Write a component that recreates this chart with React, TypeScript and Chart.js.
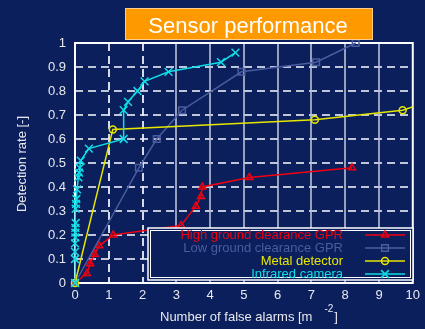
import React, { useEffect, useRef } from "react";
import { Chart, registerables } from "chart.js";

Chart.register(...registerables);

// ---------- data ----------
const TITLE = "Sensor performance";
const X_TITLE = "Number of false alarms [m";
const X_TITLE_SUP = "-2";
const X_TITLE_END = "]";
const Y_TITLE = "Detection rate [-]";

const seriesLabels = [
  "High ground clearance GPR",
  "Low ground clearance GPR",
  "Metal detector",
  "Infrared camera",
];

const highGprX = [0, 0.35, 0.45, 0.58, 0.72, 1.13, 3.14, 3.58, 3.73, 3.77, 5.16, 8.2];
const highGprY = [0, 0.04, 0.08, 0.12, 0.155, 0.2, 0.24, 0.32, 0.36, 0.4, 0.44, 0.48];

const lowGprX = [0, 1.89, 2.42, 3.17, 4.93, 7.14, 8.31];
const lowGprY = [0, 0.48, 0.6, 0.72, 0.88, 0.92, 1.0];

const metalX = [0, 1.12, 7.1, 9.7, 11];
const metalY = [0, 0.64, 0.68, 0.72, 0.78];

const irX = [0, 0, 0, 0, 0.01, 0.01, 0.01, 0.02, 0.02, 0.03, 0.04, 0.06, 0.1, 0.12, 0.14, 0.17, 0.41, 1.44, 1.44, 1.57, 1.85, 2.06, 2.77, 4.32, 4.75];
const irY = [0, 0.1, 0.13, 0.165, 0.19, 0.21, 0.23, 0.25, 0.31, 0.33, 0.35, 0.39, 0.44, 0.46, 0.48, 0.51, 0.56, 0.6, 0.72, 0.755, 0.8, 0.84, 0.88, 0.92, 0.96];

const X_MIN = 0;
const X_MAX = 10;
const Y_MIN = 0;
const Y_MAX = 1;

// ---------- style ----------
const BG = "#0a1f5c";
const FONT = "'Liberation Sans', Arial, Helvetica, sans-serif";
const TEXT = "#e8e8ee";
const COLORS = ["#f00010", "#4b5c9e", "#e6e600", "#10dde6"];
const MARKERS = ["triangle", "rect", "circle", "crossRot"];
const RADII = [4, 4.7, 3.5, 5.5];

const toXY = (xs: number[], ys: number[]) => xs.map((x, i) => ({ x, y: ys[i] }));

function drawMarker(ctx: CanvasRenderingContext2D, style: string, x: number, y: number, r: number, color: string) {
  ctx.save();
  ctx.strokeStyle = color;
  ctx.lineWidth = 1.5;
  ctx.beginPath();
  if (style === "triangle") {
    ctx.moveTo(x, y - r);
    ctx.lineTo(x + r * 0.866, y + r * 0.5);
    ctx.lineTo(x - r * 0.866, y + r * 0.5);
    ctx.closePath();
  } else if (style === "rect") {
    const s = r * Math.SQRT1_2;
    ctx.rect(x - s, y - s, 2 * s, 2 * s);
  } else if (style === "circle") {
    ctx.arc(x, y, r, 0, Math.PI * 2);
  } else {
    const d = r * Math.SQRT1_2;
    ctx.moveTo(x - d, y - d);
    ctx.lineTo(x + d, y + d);
    ctx.moveTo(x + d, y - d);
    ctx.lineTo(x - d, y + d);
  }
  ctx.stroke();
  ctx.restore();
}

const decorPlugin = {
  id: "decor",
  beforeDraw(chart: any) {
    const ctx: CanvasRenderingContext2D = chart.ctx;
    ctx.save();
    ctx.fillStyle = BG;
    ctx.fillRect(0, 0, chart.width, chart.height);
    ctx.restore();
  },
  beforeDatasetsDraw(chart: any) {
    const ctx: CanvasRenderingContext2D = chart.ctx;
    const { left, right, top, bottom } = chart.chartArea;
    const xs = chart.scales.x;
    const ys = chart.scales.y;
    ctx.save();
    // horizontal dashed grid
    ctx.strokeStyle = "rgba(225,228,240,0.85)";
    ctx.lineWidth = 2;
    ctx.setLineDash([8, 5]);
    ys.ticks.forEach((t: any) => {
      if (t.value <= Y_MIN || t.value >= Y_MAX) return;
      const y = Math.round(ys.getPixelForValue(t.value));
      ctx.beginPath();
      ctx.moveTo(left, y);
      ctx.lineTo(right, y);
      ctx.stroke();
    });
    // vertical grid: dashed for 1,2 ; solid beyond
    xs.ticks.forEach((t: any) => {
      if (t.value <= X_MIN || t.value >= X_MAX) return;
      const x = Math.round(xs.getPixelForValue(t.value));
      ctx.beginPath();
      if (t.value <= 2) {
        ctx.setLineDash([8, 5]);
        ctx.strokeStyle = "rgba(235,238,248,0.9)";
      } else {
        ctx.setLineDash([]);
        ctx.strokeStyle = "rgba(185,192,215,0.8)";
      }
      ctx.moveTo(x, top);
      ctx.lineTo(x, bottom);
      ctx.stroke();
    });
    ctx.setLineDash([]);
    // frame
    ctx.strokeStyle = "#ffffff";
    ctx.lineWidth = 2;
    ctx.strokeRect(left, top, right - left, bottom - top);
    ctx.restore();
  },
  afterDatasetsDraw(chart: any) {
    const ctx: CanvasRenderingContext2D = chart.ctx;
    // legend
    const lx = 148, ly = 228, lw = 265, lh = 52;
    ctx.save();
    ctx.fillStyle = BG;
    ctx.fillRect(lx, ly, lw, lh);
    ctx.strokeStyle = "#ffffff";
    ctx.lineWidth = 1.5;
    ctx.strokeRect(lx, ly, lw, lh);
    ctx.lineWidth = 1;
    ctx.strokeRect(lx + 2.5, ly + 2.5, lw - 5, lh - 5);
    ctx.font = `13px ${FONT}`;
    ctx.textAlign = "right";
    ctx.textBaseline = "middle";
    chart.data.datasets.forEach((ds: any, i: number) => {
      const y = 235 + i * 13;
      ctx.fillStyle = ds.borderColor;
      ctx.fillText(ds.label, 343, y);
      ctx.strokeStyle = ds.borderColor;
      ctx.lineWidth = 1.5;
      ctx.beginPath();
      ctx.moveTo(365, y);
      ctx.lineTo(405, y);
      ctx.stroke();
      drawMarker(ctx, MARKERS[i], 385, y, RADII[i], ds.borderColor);
    });
    ctx.restore();
  },
  afterDraw(chart: any) {
    const ctx: CanvasRenderingContext2D = chart.ctx;
    ctx.save();
    // title box
    ctx.fillStyle = "#ff9900";
    ctx.fillRect(125, 8, 248, 32);
    ctx.strokeStyle = "rgba(255,210,150,0.9)";
    ctx.lineWidth = 1;
    ctx.strokeRect(125.5, 8.5, 247, 31);
    ctx.fillStyle = "#ffffff";
    ctx.font = `22px ${FONT}`;
    ctx.textAlign = "center";
    ctx.textBaseline = "alphabetic";
    ctx.fillText(TITLE, 248, 33);
    // y title
    ctx.fillStyle = TEXT;
    ctx.font = `13px ${FONT}`;
    ctx.save();
    ctx.translate(22, 164);
    ctx.rotate(-Math.PI / 2);
    ctx.textAlign = "center";
    ctx.textBaseline = "middle";
    ctx.fillText(Y_TITLE, 0, 0);
    ctx.restore();
    // x title with superscript
    ctx.textAlign = "left";
    ctx.textBaseline = "alphabetic";
    ctx.font = `13px ${FONT}`;
    const x0 = 160;
    ctx.fillText(X_TITLE, x0, 321);
    const w1 = ctx.measureText(X_TITLE).width;
    ctx.font = `10px ${FONT}`;
    ctx.fillText(X_TITLE_SUP, x0 + w1 + 12, 312);
    const w2 = ctx.measureText(X_TITLE_SUP).width;
    ctx.font = `13px ${FONT}`;
    ctx.fillText(X_TITLE_END, x0 + w1 + 13 + w2, 321);
    ctx.restore();
  },
};

export default function App() {
  const ref = useRef<HTMLCanvasElement | null>(null);
  useEffect(() => {
    document.body.style.margin = "0";
    if (!ref.current) return;
    const xsList = [highGprX, lowGprX, metalX, irX];
    const ysList = [highGprY, lowGprY, metalY, irY];
    const chart = new Chart(ref.current, {
      type: "scatter",
      data: {
        datasets: seriesLabels.map((label, i) => ({
          label,
          data: toXY(xsList[i], ysList[i]),
          showLine: true,
          borderColor: COLORS[i],
          backgroundColor: "rgba(0,0,0,0)",
          borderWidth: 1.5,
          pointStyle: MARKERS[i] as any,
          pointRadius: RADII[i],
          pointBorderWidth: 1.5,
          pointBorderColor: COLORS[i],
          pointBackgroundColor: "rgba(0,0,0,0)",
          clip: { left: 10, top: 10, right: 0, bottom: 10 } as any,
          order: 3 - i,
        })),
      },
      options: {
        animation: false,
        responsive: false,
        maintainAspectRatio: false,
        layout: { padding: { top: 43, right: 3, left: 0, bottom: 0 } },
        plugins: {
          legend: { display: false },
          title: { display: false },
          tooltip: { enabled: false },
        },
        scales: {
          x: {
            type: "linear",
            min: X_MIN,
            max: X_MAX,
            ticks: { stepSize: 1, color: TEXT, font: { family: FONT, size: 13 }, padding: 5, maxRotation: 0 },
            grid: { display: false, drawTicks: false },
            border: { display: false },
            afterFit: (s: any) => { s.height = 46; },
          },
          y: {
            type: "linear",
            min: Y_MIN,
            max: Y_MAX,
            ticks: {
              stepSize: 0.1,
              color: TEXT,
              font: { family: FONT, size: 13 },
              padding: 9,
              callback: (v: any) => String(Number(Number(v).toFixed(1))),
            },
            grid: { display: false, drawTicks: false },
            border: { display: false },
            afterFit: (s: any) => { s.width = 75; },
          },
        },
      },
      plugins: [decorPlugin],
    });
    return () => chart.destroy();
  }, []);
  return (
    <div style={{ width: 425, height: 329, background: BG }}>
      <canvas ref={ref} width={425} height={329} style={{ display: "block" }} />
    </div>
  );
}
